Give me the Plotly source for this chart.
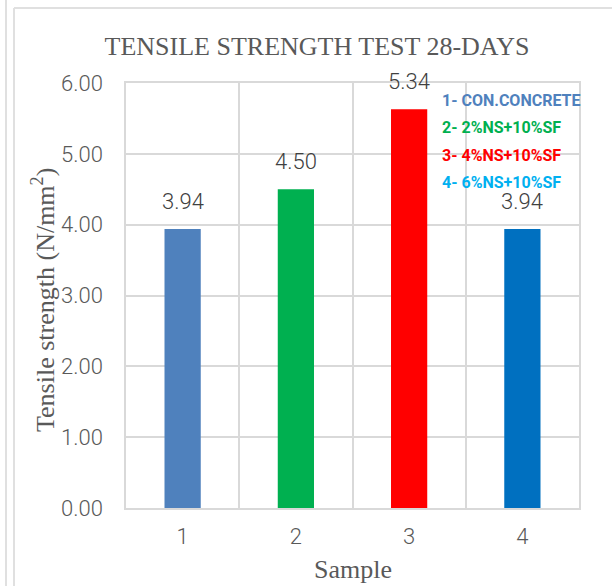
import plotly.graph_objects as go

# ---- data ----
samples = [1, 2, 3, 4]
strength = [3.94, 4.50, 5.63, 3.94]
label_text = ["3.94", "4.50", "5.34", "3.94"]
bar_colors = ["#4F81BD", "#00B050", "#FF0000", "#0070C0"]
legend_items = ["1- CON.CONCRETE", "2- 2%NS+10%SF", "3- 4%NS+10%SF", "4- 6%NS+10%SF"]
legend_colors = ["#4F81BD", "#00B050", "#FF0000", "#00B0F0"]
y_ticks = [0, 1, 2, 3, 4, 5, 6]
y_ticktext = ["0.00", "1.00", "2.00", "3.00", "4.00", "5.00", "6.00"]

# ---- layout geometry (pixels) ----
W, H = 612, 586
L, R, T, B = 126, 33, 83, 78
PW, PH = W - L - R, H - T - B

def px(x):
    return (x - L) / PW

def py(y):
    return 1 - (y - T) / PH

GRID = "#d9d9d9"
TXT = "#595959"
NUMFONT = "Roboto"
SERIF = "Liberation Serif, Times New Roman, serif"

fig = go.Figure()
fig.add_trace(go.Bar(
    x=samples, y=strength, width=0.32,
    marker=dict(color=bar_colors, line=dict(width=0)),
    showlegend=False, hoverinfo="x+y",
))

annotations = []
for xv, yv, lab in zip(samples, strength, label_text):
    annotations.append(dict(
        x=xv, y=yv, xref="x", yref="y", text=lab, showarrow=False,
        xanchor="center", yanchor="bottom", yshift=13,
        font=dict(family=NUMFONT, size=22, color="#404040", weight=300),
    ))

legend_y = [100, 127, 155, 182]
for txt, col, yy in zip(legend_items, legend_colors, legend_y):
    annotations.append(dict(
        text=txt, xref="paper", yref="paper", x=px(440), y=py(yy),
        xanchor="left", yanchor="middle", showarrow=False,
        font=dict(family="Roboto", size=16, color=col, weight="bold"),
    ))
annotations.append(dict(
    text="Tensile strength (N/mm<sup>2</sup>)", xref="paper", yref="paper",
    x=px(43), y=py(300), textangle=-90, showarrow=False,
    xanchor="center", yanchor="middle",
    font=dict(family=SERIF, size=26, color=TXT),
))
annotations.append(dict(
    text="Sample", xref="paper", yref="paper",
    x=px(353), y=py(569), showarrow=False,
    xanchor="center", yanchor="middle",
    font=dict(family=SERIF, size=26, color=TXT),
))

shapes = [
    dict(type="line", xref="paper", yref="paper", x0=px(6), x1=px(6), y0=py(0), y1=py(H), line=dict(color="#e0e0e0", width=2)),
    dict(type="line", xref="paper", yref="paper", x0=px(14), x1=px(14), y0=py(8), y1=py(H), line=dict(color="#e0e0e0", width=2)),
    dict(type="line", xref="paper", yref="paper", x0=px(14), x1=px(W), y0=py(8), y1=py(8), line=dict(color="#e0e0e0", width=2)),
]

fig.update_layout(
    width=W, height=H,
    margin=dict(l=L, r=R, t=T, b=B, pad=0),
    paper_bgcolor="white", plot_bgcolor="white",
    title=dict(text="TENSILE STRENGTH TEST 28-DAYS", x=317 / W, xanchor="center",
               y=1 - 46 / H, yanchor="middle", yref="container",
               font=dict(family=SERIF, size=26, color=TXT)),
    xaxis=dict(range=[0.5, 4.5], tickvals=samples, ticktext=[str(s) for s in samples],
               showgrid=False, zeroline=False,
               showline=True, linecolor=GRID, linewidth=2, mirror=True,
               ticks="", ticklabelstandoff=8,
               tickfont=dict(family=NUMFONT, size=22, color=TXT, weight=300),
               minor=dict(tickvals=[0.5, 1.5, 2.5, 3.5, 4.5], showgrid=True, gridcolor=GRID, gridwidth=1.5, ticks="")),
    yaxis=dict(range=[0, 6], tickvals=y_ticks, ticktext=y_ticktext,
               showgrid=True, gridcolor=GRID, gridwidth=1.5, zeroline=False,
               showline=True, linecolor=GRID, linewidth=1.5, mirror=True,
               ticks="", ticklabelstandoff=17,
               tickfont=dict(family=NUMFONT, size=22, color=TXT, weight=300)),
    annotations=annotations,
    shapes=shapes,
)

fig.write_html("out.html", config={"displayModeBar": False},
               post_script="document.body.style.margin='0';document.body.style.padding='0';")
